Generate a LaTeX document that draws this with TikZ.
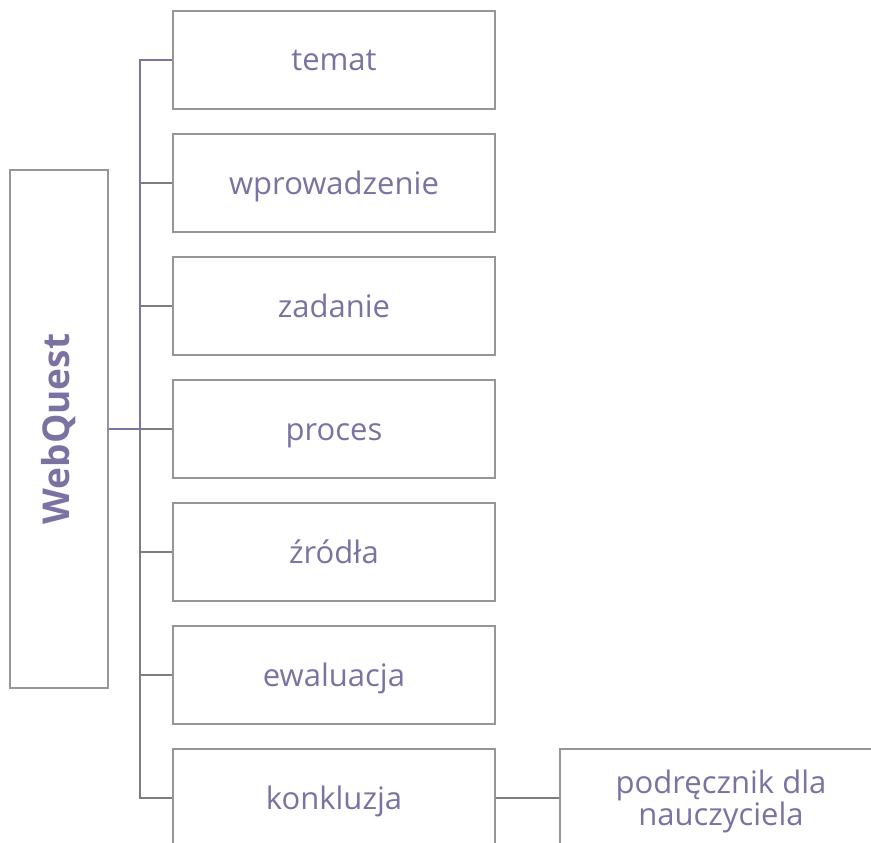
\documentclass[tikz,border=0pt]{standalone}
\usepackage{fontspec}
\setmainfont{Open Sans}
\definecolor{txt}{RGB}{124,114,162}
\definecolor{purpline}{RGB}{125,115,165}
\definecolor{conngrey}{RGB}{125,125,125}
\definecolor{boxgrey}{RGB}{150,150,150}
\begin{document}
\begin{tikzpicture}[x=1pt,y=-1pt,
  basebox/.style={draw=boxgrey,line width=1.3pt,minimum width=322pt,minimum height=98pt,
    inner sep=0pt,text=txt,align=center,font=\fontsize{31}{30.5}\selectfont},
  box/.style={basebox,text height=26pt,text depth=4pt},
  rootbox/.style={draw=boxgrey,line width=1.3pt,minimum width=98pt,minimum height=518pt,
    inner sep=0pt,text=txt,font=\fontsize{37}{42}\selectfont\bfseries},
  gconn/.style={draw=conngrey,line width=2pt},
  pconn/.style={draw=purpline,line width=2pt}]
\useasboundingbox (0,0) rectangle (871,843);
\clip (0,0) rectangle (871,843);
\node[rootbox] (wq) at (59,429) {\rotatebox{90}{WebQuest}};
\node[box] (temat) at (334,60) {temat};
\node[box] (wpr) at (334,183) {wprowadzenie};
\node[box] (zad) at (334,306) {zadanie};
\node[box] (proc) at (334,429) {proces};
\node[box] (zrod) at (334,552) {źródła};
\node[box] (ewal) at (334,675) {ewaluacja};
\node[box] (konk) at (334,798) {konkluzja};
\node[basebox,text height=58pt,text depth=4pt] (podr) at (721,798) {podręcznik dla\\nauczyciela};
\coordinate (trunk) at (140,429);
\foreach \n in {wpr,zad,proc,zrod,ewal,konk}
  \draw[gconn] (wq.east) -- (trunk) |- (\n.west);
\draw[gconn] (konk.east) -- (podr.west);
\draw[pconn] (wq.east) -- (trunk) |- (temat.west);
\end{tikzpicture}
\end{document}
